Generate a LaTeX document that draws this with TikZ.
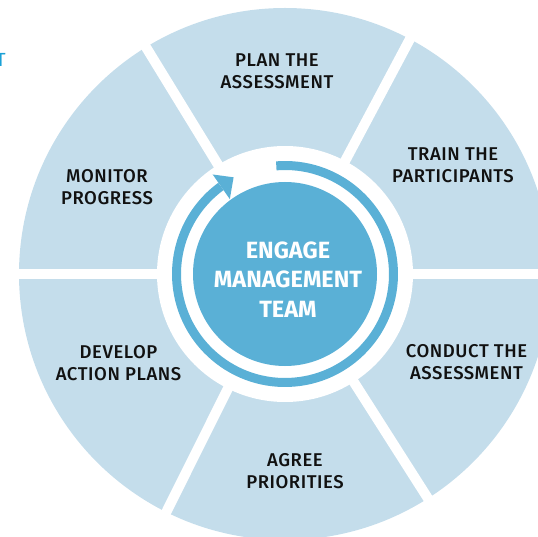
\documentclass[tikz,border=0pt]{standalone}
\usepackage{fontspec}
\setmainfont{Fira Sans}
\newfontfamily\labelfont{Fira Sans Medium}[LetterSpace=3]
\newfontfamily\hubfont{Fira Sans}[LetterSpace=0]
\definecolor{segblue}{RGB}{196,221,235}
\definecolor{hubblue}{RGB}{90,176,214}
\definecolor{titleblue}{RGB}{27,161,214}
\definecolor{labeltext}{RGB}{17,17,17}
\tikzset{
  steplabel/.style={align=center, inner sep=0pt, text=labeltext,
    font=\labelfont\fontsize{18.5}{22}\selectfont},
  hubtext/.style={align=center, inner sep=0pt, text=white,
    font=\hubfont\fontsize{23.5}{29.5}\selectfont\bfseries},
  gapline/.style={white, line width=10pt},
}
\begin{document}
\begin{tikzpicture}[x=1pt,y=1pt]
\useasboundingbox (0,0) rectangle (538,536);
\begin{scope}
\clip (0,0) rectangle (538,536);
\coordinate (c) at (285,262);
\fill[segblue] (c) circle (266);
\foreach \a in {0,62,121.5,180,243.5,302.5}
  \draw[gapline] (c) -- ++(\a:290);
\fill[white] (c) circle (128);
\draw[hubblue, line width=9pt] ([shift={(94.6:108.5)}]c)
  arc[start angle=94.6, end angle=-233.8, radius=108.5];
\fill[hubblue] ([shift={(126:123)}]c) -- ([shift={(118:109.5)}]c)
  -- ([shift={(126.4:93)}]c) -- cycle;
\node[circle, fill=hubblue, minimum size=184pt, inner sep=0pt] (hub) at (c) {};
\node[text=titleblue, font=\fontsize{19}{22}\selectfont, anchor=east, inner sep=0pt] (cut) at (6,476) {T};
\end{scope}
\node[hubtext] (hubtxt) at (288,256.5) {ENGAGE\\MANAGEMENT\\TEAM};
\node[steplabel] (plan) at (277,464.5) {PLAN THE\\ASSESSMENT};
\node[steplabel] (train) at (453,370.5) {TRAIN THE\\PARTICIPANTS};
\node[steplabel] (conduct) at (466.5,174) {CONDUCT THE\\ASSESSMENT};
\node[steplabel] (agree) at (295,64.5) {AGREE\\PRIORITIES};
\node[steplabel] (develop) at (118.5,173) {DEVELOP\\ACTION PLANS};
\node[steplabel] (monitor) at (107,349) {MONITOR\\PROGRESS};
\end{tikzpicture}
\end{document}
